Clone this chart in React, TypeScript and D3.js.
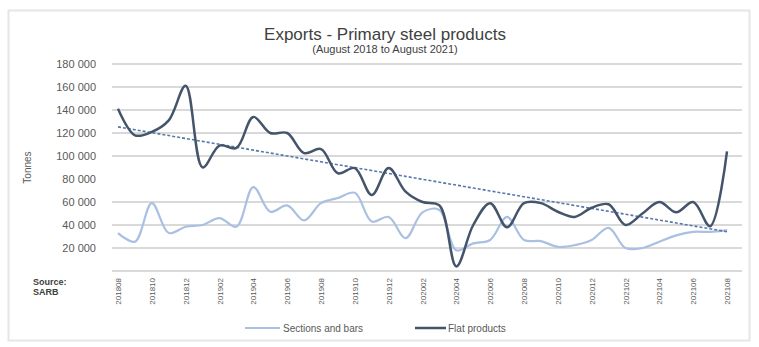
import React from "react";
import * as d3 from "d3";

const months: string[] = [
  "201808","201809","201810","201811","201812","201901","201902","201903","201904","201905","201906","201907","201908",
  "201909","201910","201911","201912","202001","202002","202003","202004","202005","202006","202007","202008",
  "202009","202010","202011","202012","202101","202102","202103","202104","202105","202106","202107","202108",
];
const tickLabels: string[] = months.filter((_, i) => i % 2 === 0);
const flatProducts: number[] = [
  141000, 118000, 121000, 131000, 161000, 90000, 109000, 107000, 134000, 120000, 120000, 102500, 106000,
  85000, 89500, 66000, 89500, 69000, 60000, 57000, 4000, 40000, 59000, 38000, 59000,
  59000, 51500, 47000, 55000, 58000, 40000, 50000, 60000, 51000, 60000, 39000, 104000,
];
const sectionsAndBars: number[] = [
  33000, 25500, 59000, 33000, 38500, 40000, 46000, 38500, 73000, 51500, 57000, 44000, 59000,
  63500, 68000, 43000, 47000, 28500, 51000, 53000, 18000, 24000, 27000, 47000, 27000,
  26000, 21000, 22500, 27000, 37500, 20000, 20000, 25500, 31000, 34000, 34000, 35500,
];
const yTicks: number[] = [20000, 40000, 60000, 80000, 100000, 120000, 140000, 160000, 180000];
const gridTicks: number[] = [0, 20000, 40000, 60000, 100000, 120000, 140000, 160000, 180000];

const fmt = (v: number) => d3.format(",")(v).replace(/,/g, " ");

export default function App() {
  const W = 759, H = 347;
  const x = d3.scalePoint<string>().domain(months).range([118, 727]);
  const y = d3.scaleLinear().domain([0, 180000]).range([271, 64]);
  const line = d3
    .line<number>()
    .x((_, i) => x(months[i]) as number)
    .y((d) => y(d))
    .curve(d3.curveCatmullRom.alpha(0.5));

  // linear trend of flat products
  const n = flatProducts.length;
  const xs = d3.range(n);
  const mx = d3.mean(xs) as number;
  const my = d3.mean(flatProducts) as number;
  const slope =
    d3.sum(xs, (i) => (i - mx) * (flatProducts[i] - my)) / d3.sum(xs, (i) => (i - mx) * (i - mx));
  const intercept = my - slope * mx;
  const trend = xs.map((i) => intercept + slope * i);
  const trendLine = d3
    .line<number>()
    .x((_, i) => x(months[i]) as number)
    .y((d) => y(d));

  const font = "Liberation Sans, Arial, sans-serif";
  return (
    <svg width={W} height={H} style={{ position: "absolute", left: 0, top: 0 }} fontFamily={font}>
      <rect x={0} y={0} width={W} height={H} fill="#fff" />
      <rect x={8.5} y={10.5} width={741} height={330} fill="#fff" stroke="#e6e6e6" strokeWidth={2} />
      <text x={385} y={40} textAnchor="middle" fontSize={17} fill="#404040">
        Exports - Primary steel products
      </text>
      <text x={385} y={53} textAnchor="middle" fontSize={11} fill="#404040">
        (August 2018 to August 2021)
      </text>
      {gridTicks.map((t) => (
        <line key={t} x1={112} x2={742} y1={y(t)} y2={y(t)} stroke="#d9d9d9" strokeWidth={1.8} />
      ))}
      {yTicks.map((t) => (
        <text key={t} x={96} y={y(t) + 4} textAnchor="end" fontSize={11} fill="#595959">
          {fmt(t)}
        </text>
      ))}
      <text transform={`translate(31,${y(90000)}) rotate(-90)`} textAnchor="middle" fontSize={10} fill="#595959">
        Tonnes
      </text>
      <text x={33} y={285} fontSize={9} fill="#404040" fontWeight="bold">Source:</text>
      <text x={33} y={295} fontSize={9} fill="#404040" fontWeight="bold">SARB</text>
      {tickLabels.map((m) => (
        <text
          key={m}
          transform={`translate(${(x(m) as number) + 3},278) rotate(-90)`}
          textAnchor="end"
          fontSize={8}
          fill="#595959"
        >
          {m}
        </text>
      ))}
      <path d={line(sectionsAndBars) as string} fill="none" stroke="#aac0e2" strokeWidth={2.2} />
      <path d={trendLine(trend) as string} fill="none" stroke="#5577aa" strokeWidth={1.6} strokeDasharray="3,2" />
      <path d={line(flatProducts) as string} fill="none" stroke="#44546a" strokeWidth={2.5} />
      <line x1={245} x2={280} y1={328} y2={328} stroke="#aac0e2" strokeWidth={2.2} />
      <text x={283} y={331.5} fontSize={10} fill="#595959">Sections and bars</text>
      <line x1={415} x2={446} y1={328} y2={328} stroke="#44546a" strokeWidth={2.5} />
      <text x={448} y={331.5} fontSize={10} fill="#595959">Flat products</text>
    </svg>
  );
}
